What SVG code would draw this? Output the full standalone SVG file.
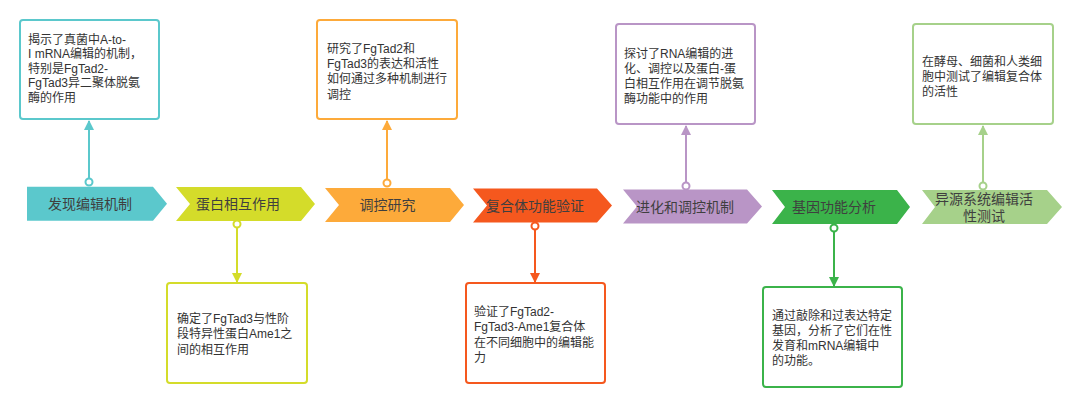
<svg xmlns="http://www.w3.org/2000/svg" width="1080" height="407" viewBox="0 0 1080 407">
<style>
.box{fill:#fff;stroke-width:2}
.bt{font-family:"Liberation Sans","Noto Sans CJK SC",sans-serif;font-size:12px;fill:#333}
.ct{font-family:"Liberation Sans","Noto Sans CJK SC",sans-serif;font-size:14px;fill:#3f3f3f;text-anchor:middle}
.ln{stroke-width:2;fill:none}
.dot{fill:#fff;stroke-width:2}
</style>
<defs>
<marker id="a1" viewBox="0 0 10 10" refX="9" refY="5" markerWidth="10" markerHeight="11" markerUnits="userSpaceOnUse" orient="auto"><path d="M0,0L10,5L0,10z" fill="#5bc8cc"/></marker>
<marker id="a2" viewBox="0 0 10 10" refX="9" refY="5" markerWidth="10" markerHeight="11" markerUnits="userSpaceOnUse" orient="auto"><path d="M0,0L10,5L0,10z" fill="#d4dc2a"/></marker>
<marker id="a3" viewBox="0 0 10 10" refX="9" refY="5" markerWidth="10" markerHeight="11" markerUnits="userSpaceOnUse" orient="auto"><path d="M0,0L10,5L0,10z" fill="#fdaa3a"/></marker>
<marker id="a4" viewBox="0 0 10 10" refX="9" refY="5" markerWidth="10" markerHeight="11" markerUnits="userSpaceOnUse" orient="auto"><path d="M0,0L10,5L0,10z" fill="#f5581e"/></marker>
<marker id="a5" viewBox="0 0 10 10" refX="9" refY="5" markerWidth="10" markerHeight="11" markerUnits="userSpaceOnUse" orient="auto"><path d="M0,0L10,5L0,10z" fill="#b995c6"/></marker>
<marker id="a6" viewBox="0 0 10 10" refX="9" refY="5" markerWidth="10" markerHeight="11" markerUnits="userSpaceOnUse" orient="auto"><path d="M0,0L10,5L0,10z" fill="#3bb34a"/></marker>
<marker id="a7" viewBox="0 0 10 10" refX="9" refY="5" markerWidth="10" markerHeight="11" markerUnits="userSpaceOnUse" orient="auto"><path d="M0,0L10,5L0,10z" fill="#a6d18a"/></marker>
</defs>
<rect width="1080" height="407" fill="#fff"/>

<g id="step1">
<path d="M27,186.7H153L167,203.7L153,220.7H27Z" fill="#5bc8cc"/>
<text class="ct" x="90" y="209">发现编辑机制</text>
</g>
<g id="step2">
<path d="M176,187H301L315,204L301,221H176L190,204Z" fill="#d4dc2a"/>
<text class="ct" x="238" y="209">蛋白相互作用</text>
</g>
<g id="step3">
<path d="M325,188H450L464,205L450,222H325L339,205Z" fill="#fdaa3a"/>
<text class="ct" x="387.5" y="210">调控研究</text>
</g>
<g id="step4">
<path d="M473,188.5H597L612,205.5L597,222.5H473L487,205.5Z" fill="#f5581e"/>
<text class="ct" x="535" y="210.5">复合体功能验证</text>
</g>
<g id="step5">
<path d="M623,189.5H747L762,206.5L747,223.5H623L637,206.5Z" fill="#b995c6"/>
<text class="ct" x="685" y="211.5">进化和调控机制</text>
</g>
<g id="step6">
<path d="M772,190H897L910,207L897,224H772L785,207Z" fill="#3bb34a"/>
<text class="ct" x="834" y="212">基因功能分析</text>
</g>
<g id="step7">
<path d="M922,190H1047L1062,207L1047,224H922L935,207Z" fill="#a6d18a"/>
<text class="ct" x="984"><tspan x="984" y="204">异源系统编辑活</tspan><tspan x="984" y="221">性测试</tspan></text>
</g>

<g id="note1">
<rect class="box" x="20" y="20" width="139" height="99" rx="3" stroke="#5bc8cc"/>
<text class="bt"><tspan x="28" y="43.5">揭示了真菌中A-to-</tspan><tspan x="28" y="58">I mRNA编辑的机制，</tspan><tspan x="28" y="72.5">特别是FgTad2-</tspan><tspan x="28" y="87">FgTad3异二聚体脱氨</tspan><tspan x="28" y="101.5">酶的作用</tspan></text>
</g>
<g id="note2">
<rect class="box" x="167" y="283" width="140" height="100" rx="3" stroke="#d4dc2a"/>
<text class="bt"><tspan x="177" y="322.5">确定了FgTad3与性阶</tspan><tspan x="177" y="338">段特异性蛋白Ame1之</tspan><tspan x="177" y="353.5">间的相互作用</tspan></text>
</g>
<g id="note3">
<rect class="box" x="317" y="20" width="140" height="99" rx="3" stroke="#fdaa3a"/>
<text class="bt"><tspan x="327" y="52.5">研究了FgTad2和</tspan><tspan x="327" y="67.5">FgTad3的表达和活性</tspan><tspan x="327" y="83">如何通过多种机制进行</tspan><tspan x="327" y="98.5">调控</tspan></text>
</g>
<g id="note4">
<rect class="box" x="466" y="283" width="139" height="100" rx="3" stroke="#f5581e"/>
<text class="bt"><tspan x="474" y="315.5">验证了FgTad2-</tspan><tspan x="474" y="331">FgTad3-Ame1复合体</tspan><tspan x="474" y="346.5">在不同细胞中的编辑能</tspan><tspan x="474" y="362">力</tspan></text>
</g>
<g id="note5">
<rect class="box" x="616" y="24" width="139" height="100" rx="3" stroke="#b995c6"/>
<text class="bt"><tspan x="624" y="57.5">探讨了RNA编辑的进</tspan><tspan x="624" y="72.5">化、调控以及蛋白-蛋</tspan><tspan x="624" y="87.5">白相互作用在调节脱氨</tspan><tspan x="624" y="102.5">酶功能中的作用</tspan></text>
</g>
<g id="note6">
<rect class="box" x="763" y="287" width="139" height="100" rx="3" stroke="#3bb34a"/>
<text class="bt"><tspan x="772" y="319.5">通过敲除和过表达特定</tspan><tspan x="772" y="334.5">基因，分析了它们在性</tspan><tspan x="772" y="349.5">发育和mRNA编辑中</tspan><tspan x="772" y="365">的功能。</tspan></text>
</g>
<g id="note7">
<rect class="box" x="913" y="24" width="140" height="100" rx="3" stroke="#a6d18a"/>
<text class="bt"><tspan x="922" y="65.5">在酵母、细菌和人类细</tspan><tspan x="922" y="80.5">胞中测试了编辑复合体</tspan><tspan x="922" y="95.5">的活性</tspan></text>
</g>

<g id="connectors">
<line class="ln" x1="89" y1="178.5" x2="89" y2="121" stroke="#5bc8cc" marker-end="url(#a1)"/>
<circle class="dot" cx="89" cy="182" r="3.5" stroke="#5bc8cc"/>
<line class="ln" x1="237" y1="227.5" x2="237" y2="282" stroke="#d4dc2a" marker-end="url(#a2)"/>
<circle class="dot" cx="237" cy="224" r="3.5" stroke="#d4dc2a"/>
<line class="ln" x1="387" y1="179.5" x2="387" y2="121" stroke="#fdaa3a" marker-end="url(#a3)"/>
<circle class="dot" cx="387" cy="183" r="3.5" stroke="#fdaa3a"/>
<line class="ln" x1="535" y1="229.5" x2="535" y2="282" stroke="#f5581e" marker-end="url(#a4)"/>
<circle class="dot" cx="535" cy="226" r="3.5" stroke="#f5581e"/>
<line class="ln" x1="686" y1="182.5" x2="686" y2="126" stroke="#b995c6" marker-end="url(#a5)"/>
<circle class="dot" cx="686" cy="186" r="3.5" stroke="#b995c6"/>
<line class="ln" x1="834" y1="231.5" x2="834" y2="286" stroke="#3bb34a" marker-end="url(#a6)"/>
<circle class="dot" cx="834" cy="228" r="3.5" stroke="#3bb34a"/>
<line class="ln" x1="983" y1="182.5" x2="983" y2="126" stroke="#a6d18a" marker-end="url(#a7)"/>
<circle class="dot" cx="983" cy="186" r="3.5" stroke="#a6d18a"/>
</g>
</svg>
